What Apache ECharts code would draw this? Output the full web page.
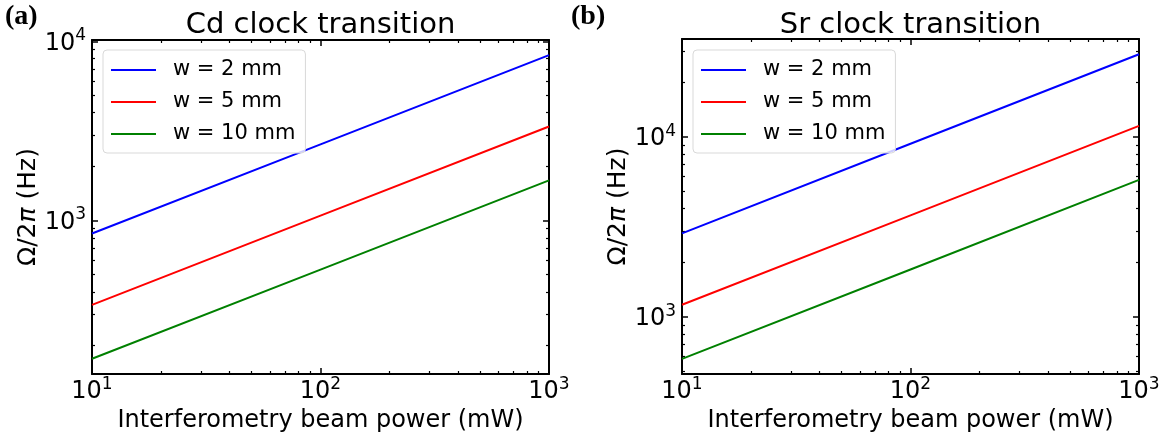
<!DOCTYPE html>
<html>
<head>
<meta charset="utf-8">
<script src="https://cdn.jsdelivr.net/npm/echarts@6/dist/echarts.min.js"></script>
<style>
  html, body { margin: 0; padding: 0; background: #fff; }
  #chart { width: 1169px; height: 432px; }
</style>
</head>
<body>
<div id="chart"></div>
<script>
// beam power (mW)
var power = [10, 100, 1000]

// Cd clock transition, Omega/2pi (Hz)
var cdW2 = [846, 2660, 8380]
var cdW5 = [338, 1065, 3350]
var cdW10 = [169, 532, 1675]

// Sr clock transition, Omega/2pi (Hz)
var srW2 = [2905, 9150, 28800]
var srW5 = [1165, 3660, 11500]
var srW10 = [583, 1830, 5760]

var names = ['w = 2 mm', 'w = 5 mm', 'w = 10 mm']
var colors = ['#0000ff', '#ff0000', '#008000']

var xMajor = [10, 100, 1000]
var xMinor = [20, 30, 40, 50, 60, 70, 80, 90, 200, 300, 400, 500, 600, 700, 800, 900]
var cdMajor = [1000, 10000]
var cdMinor = [200, 300, 400, 500, 600, 700, 800, 900, 2000, 3000, 4000, 5000, 6000, 7000, 8000, 9000]
var srMajor = [1000, 10000]
var srMinor = [500, 600, 700, 800, 900, 2000, 3000, 4000, 5000, 6000, 7000, 8000, 9000, 20000, 30000]

var font = 'DejaVu Sans'

var pairs = (xs, ys) => {
    var out = []
    for (var i = 0; i < xs.length; i++) {
        out.push([xs[i], ys[i]])
    }
    return out
}

var powLabel = (value) => {
    var e = Math.round(Math.log10(value))
    return '{b|10}{s|' + e + '}'
}

var labelRich = {
    b: {fontSize: 24, fontFamily: font, color: '#000', lineHeight: 28, verticalAlign: 'bottom'},
    s: {fontSize: 17, fontFamily: font, color: '#000', lineHeight: 15, verticalAlign: 'top'},
}

// four axes per side: major + minor ticks, on both edges of the frame
var makeAxes = (dim, grid, min, max, major, minor, name) => {
    var sides = dim == 'x' ? ['bottom', 'top'] : ['left', 'right']
    var axes = []
    for (var k = 0; k < 2; k++) {
        var main = {
            type: 'log', logBase: 10, gridIndex: grid, position: sides[k],
            min: min, max: max,
            axisLine: {show: true, onZero: false, lineStyle: {color: '#000', width: 2}},
            axisTick: {show: true, inside: true, length: 6, customValues: major,
                lineStyle: {color: '#000', width: 1.5}},
            axisLabel: {show: false},
            splitLine: {show: false},
            minorTick: {show: false},
        }
        if (k == 0) {
            main.axisLabel = {
                show: true, customValues: major, formatter: powLabel, rich: labelRich,
                margin: dim == 'x' ? 2 : 6,
            }
            main.name = name
            main.nameLocation = 'middle'
            main.nameGap = dim == 'x' ? 31 : 51
            var size = dim == 'x' ? 24 : 25
            main.nameTextStyle = {fontSize: size, fontFamily: font, color: '#000',
                rich: {i: {fontSize: size, fontFamily: font, fontStyle: 'italic', color: '#000'}}}
        }
        var small = {
            type: 'log', logBase: 10, gridIndex: grid, position: sides[k],
            min: min, max: max,
            axisLine: {show: false, onZero: false},
            axisTick: {show: true, inside: true, length: 3, customValues: minor,
                lineStyle: {color: '#000', width: 1.2}},
            axisLabel: {show: false},
            splitLine: {show: false},
            minorTick: {show: false},
        }
        axes.push(main, small)
    }
    return axes
}

var makeSeries = (lists, axisIndex) => {
    var out = []
    for (var i = 0; i < lists.length; i++) {
        out.push({
            name: names[i], type: 'line',
            xAxisIndex: axisIndex, yAxisIndex: axisIndex,
            data: pairs(power, lists[i]),
            showSymbol: false, symbol: 'none',
            lineStyle: {color: colors[i], width: 2},
            itemStyle: {color: colors[i]},
            z: 2,
        })
    }
    return out
}

var makeLegend = (left) => {
    return {
        left: left, top: 50, orient: 'vertical',
        data: names,
        icon: 'rect', itemWidth: 45, itemHeight: 2.2, itemGap: 10,
        padding: [9, 10, 8, 8],
        backgroundColor: 'rgba(255,255,255,0.8)',
        borderColor: '#d9d9d9', borderWidth: 1, borderRadius: 4,
        textStyle: {fontSize: 21, fontFamily: font, color: '#000', lineHeight: 22, padding: [0, 0, 0, 12]},
        selectedMode: false,
    }
}

var chart = echarts.init(document.getElementById('chart'), null, {renderer: 'canvas'})

var xAxes = makeAxes('x', 0, 10, 1000, xMajor, xMinor, 'Interferometry beam power (mW)')
    .concat(makeAxes('x', 1, 10, 1000, xMajor, xMinor, 'Interferometry beam power (mW)'))
var yAxes = makeAxes('y', 0, 139, 10180, cdMajor, cdMinor, 'Ω/2{i|π} (Hz)')
    .concat(makeAxes('y', 1, 480, 35000, srMajor, srMinor, 'Ω/2{i|π} (Hz)'))

var option = {
    animation: false,
    backgroundColor: '#fff',
    title: [
        {text: 'Cd clock transition', left: 315.5, top: 6, textAlign: 'center',
            textStyle: {fontSize: 29, fontWeight: 'normal', fontFamily: font, color: '#000'}},
        {text: 'Sr clock transition', left: 905.5, top: 6, textAlign: 'center',
            textStyle: {fontSize: 29, fontWeight: 'normal', fontFamily: font, color: '#000'}},
    ],
    grid: [
        {left: 92, right: 620, top: 40, bottom: 58, outerBoundsMode: 'none'},
        {left: 682, right: 30, top: 39, bottom: 58, outerBoundsMode: 'none'},
    ],
    legend: [makeLegend(103), makeLegend(693)],
    xAxis: xAxes,
    yAxis: yAxes,
    series: makeSeries([cdW2, cdW5, cdW10], 0).concat(makeSeries([srW2, srW5, srW10], 4)),
    graphic: [
        {type: 'text', left: 5, top: 3,
            style: {text: '(a)', font: 'bold 28px "Liberation Serif"', fill: '#000'}},
        {type: 'text', left: 571, top: 3,
            style: {text: '(b)', font: 'bold 28px "Liberation Serif"', fill: '#000'}},
    ],
}

chart.setOption(option)
</script>
</body>
</html>
